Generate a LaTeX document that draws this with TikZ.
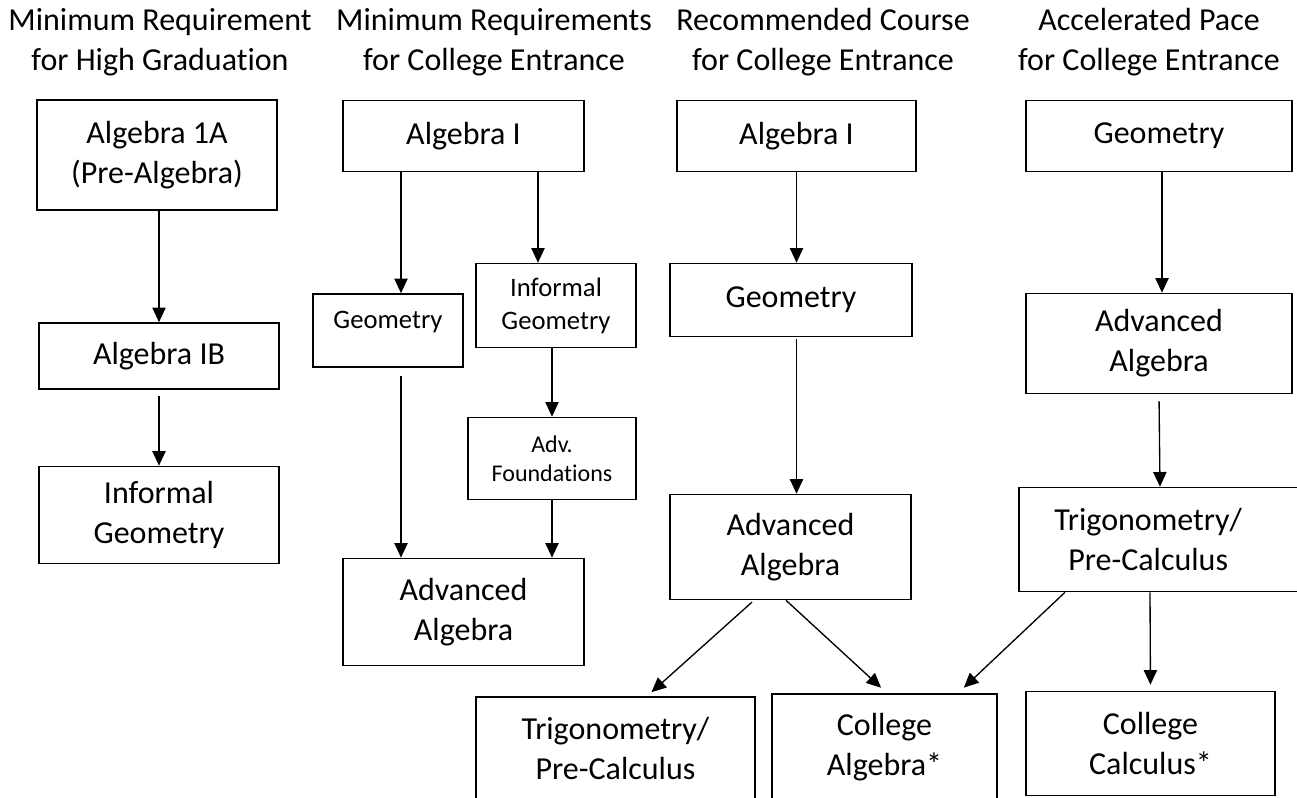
\documentclass[tikz,border=0pt]{standalone}
\usepackage{fontspec}
\setmainfont{Carlito}[Ligatures = NoCommon]
\usetikzlibrary{calc, arrows.meta}

\tikzset{
	box/.style = {draw, line width = 1.2pt, align = center, inner sep = 0pt, font = {\fontsize{24}{30}\selectfont}},
	smallbox/.style = {box, font = {\fontsize{20}{24.75}\selectfont}},
	tinybox/.style = {box, font = {\fontsize{18}{21.75}\selectfont}},
	boxsize/.style 2 args = {minimum width = #1*0.75pt, minimum height = #2*0.75pt},
	link/.style = {-{Triangle[length = 11pt, width = 10pt]}, line width = 1pt},
	head/.style = {align = center, inner sep = 0pt, font = {\fontsize{24}{30}\selectfont}}
}

\begin{document}
\begin{tikzpicture}[x = 0.75pt, y = -0.75pt]
	\clip (0, 0) rectangle (1297, 798);
	\node [head] (heada) at (160, 42) {Minimum Requirement\\for High Graduat\kern0pt ion};
	\node [head] (headb) at (494, 42) {Minimum Requirements\\for College Entrance};
	\node [head] (headc) at (823, 42) {Recommended Course\\for College Entrance};
	\node [head] (headd) at (1149, 42) {Accelerated Pace\\for College Entrance};

	\node [box, boxsize = {240}{110}] (alga) at (157, 155) {Algebra 1A\\(Pre-Algebra)};
	\node [box, boxsize = {240}{66}] (algb) at (159, 356) {Algebra IB};
	\node [box, boxsize = {240}{97}] (infa) at (159, 515) {Informal\\Geometry};

	\node [box, boxsize = {241}{71}] (algi) at (463.5, 136) {Algebra I};
	\node [smallbox, boxsize = {150}{73}, text depth = 16pt] (geob) at (388, 330.5) {Geometry};
	\node [smallbox, boxsize = {160}{84}] (infb) at (556, 305.5) {Informal\\Geometry};
	\node [tinybox, boxsize = {168}{82}] (advf) at (552, 458.5) {Adv.\\Foundat\kern0pt ions};
	\node [box, boxsize = {241}{107}] (adab) at (463.5, 612) {Advanced\\Algebra};

	\node [box, boxsize = {239}{71}] (algii) at (796.5, 136) {Algebra I};
	\node [box, boxsize = {242}{73}] (geoc) at (791, 300) {Geometry};
	\node [box, boxsize = {241}{105}] (adac) at (790.5, 547) {Advanced\\Algebra};
	\node [box, boxsize = {279}{104}] (trigc) at (615.5, 749) {Trigonometry/\\Pre-Calculus};
	\node [box, boxsize = {225}{107}] (calg) at (884.5, 747.5) {College\\Algebra*};

	\node [box, boxsize = {266}{71}] (geod) at (1159, 136) {Geometry};
	\node [box, boxsize = {266}{100}] (adad) at (1159, 343.5) {Advanced\\Algebra};
	\node [box, boxsize = {301}{104}] (trigd) at (1169.5, 539.5) {Trigonometry/\hspace*{32pt}\\Pre-Calculus\hspace*{32pt}};
	\node [box, boxsize = {249}{104}] (ccalc) at (1150.5, 743.5) {College\\Calculus*};

	\draw [link] (alga.south -| algb.north) -- (algb.north);
	\draw [link, shorten <= 4.5pt] (algb.south) -- (infa.north);
	\draw [link] ($(algi.south) + (-62.5, 0)$) -- ($(geob.north) + (13, 0)$);
	\draw [link] ($(algi.south) + (74.5, 0)$) -- ($(infb.north) + (-18, 0)$);
	\draw [link, shorten <= 6pt] ($(geob.south) + (13, 0)$) -- ($(adab.north) + (-62.5, 0)$);
	\draw [link] (infb.south -| advf.north) -- (advf.north);
	\draw [link] (advf.south) -- (advf.south |- adab.north);
	\draw [link] (algii.south) -- (algii.south |- geoc.north);
	\draw [link, shorten <= 1.5pt] (geoc.south -| algii.south) -- (algii.south |- adac.north);
	\draw [link] ($(geod.south) + (3, 0)$) -- ($(adad.north) + (3, 0)$);
	\draw [link, shorten <= 5.25pt] (adad.south) -- ($(trigd.north) + (-9.5, 0)$);
	\draw [link, shorten <= 2pt, shorten >= 4.5pt] ($(adac.south) + (-36.5, 0)$) -- ($(trigc.north) + (31.5, 0)$);
	\draw [link, shorten >= 6pt] ($(adac.south) + (-4.5, 0)$) -- ($(calg.north) + (2.5, 0)$);
	\draw [link, shorten >= 6pt] ($(trigd.south) + (-104.5, 0)$) -- ($(calg.north) + (73.5, 0)$);
	\draw [link, shorten >= 4.5pt] ($(trigd.south) + (-19.5, 0)$) -- (ccalc.north);
\end{tikzpicture}
\end{document}
